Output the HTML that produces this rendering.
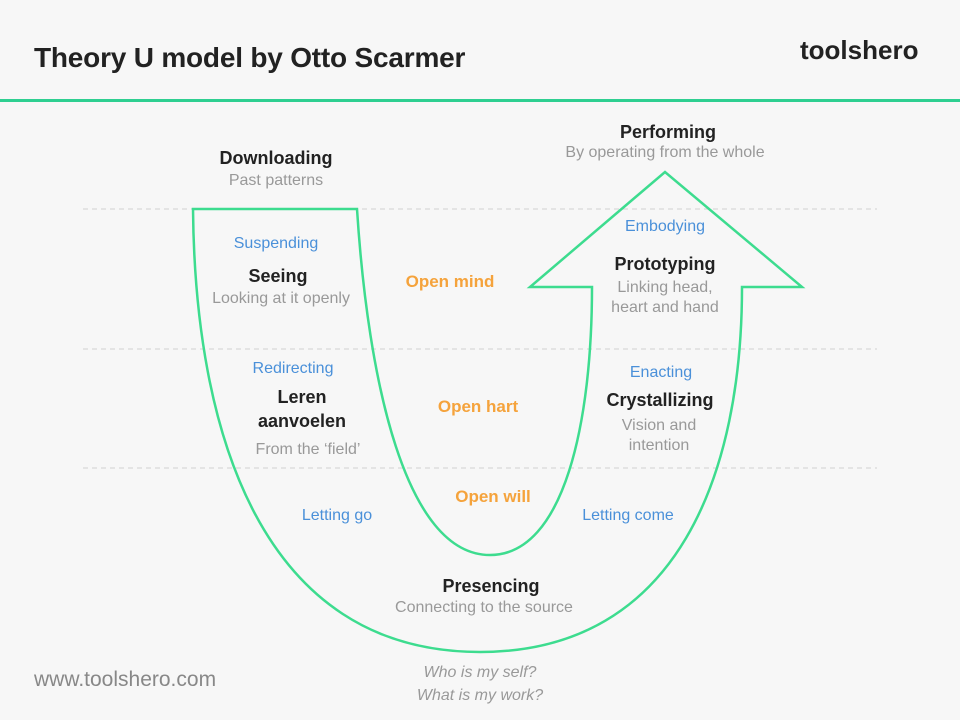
<!DOCTYPE html>
<html><head><meta charset="utf-8"><style>
html,body{margin:0;padding:0;background:#f7f7f7;}
body{width:960px;height:720px;position:relative;overflow:hidden;font-family:"Liberation Sans",sans-serif;}
.t{position:absolute;white-space:nowrap;transform:translateX(-50%);text-align:center;line-height:20px;}
.h{font-size:18px;font-weight:bold;color:#222;}
.s{font-size:16px;color:#999;}
.b{font-size:16px;color:#4a90d9;}
.o{font-size:17px;font-weight:bold;color:#f5a33c;}
</style></head><body>
<div style="position:absolute;left:34px;top:42px;font-size:28px;font-weight:bold;color:#222;letter-spacing:-0.2px">Theory U model by Otto Scarmer</div>
<div style="position:absolute;left:800px;top:35px;font-size:26px;font-weight:bold;color:#222">toolshero</div>
<div style="position:absolute;left:0;top:99px;width:960px;height:3px;background:#2ecf91"></div>
<svg width="960" height="720" style="position:absolute;left:0;top:0">
<g stroke="#d8d8d8" stroke-width="1.2" stroke-dasharray="5,4">
<line x1="83" y1="209" x2="877" y2="209"/><line x1="83" y1="349" x2="877" y2="349"/><line x1="83" y1="468" x2="877" y2="468"/>
</g>
<path d="M193,209 L357,209 C368,380 405,555 490,555 C565,555 592,420 592,287 L530,287 L665,172 L802,287 L742,287 C742,470 680,652 480,652 C260,652 195,430 193,209 Z" fill="none" stroke="#3ddc8f" stroke-width="2.5" stroke-linejoin="miter"/>
</svg>
<div class="t h" style="left:276px;top:148px">Downloading</div>
<div class="t s" style="left:276px;top:171px">Past patterns</div>
<div class="t h" style="left:668px;top:122px">Performing</div>
<div class="t s" style="left:665px;top:143px">By operating from the whole</div>
<div class="t b" style="left:276px;top:234px">Suspending</div>
<div class="t h" style="left:278px;top:266px">Seeing</div>
<div class="t s" style="left:281px;top:289px">Looking at it openly</div>
<div class="t o" style="left:450px;top:272px">Open mind</div>
<div class="t b" style="left:665px;top:217px">Embodying</div>
<div class="t h" style="left:665px;top:254px">Prototyping</div>
<div class="t s" style="left:665px;top:278px">Linking head,</div>
<div class="t s" style="left:665px;top:298px">heart and hand</div>
<div class="t b" style="left:293px;top:359px">Redirecting</div>
<div class="t h" style="left:302px;top:387px">Leren</div>
<div class="t h" style="left:302px;top:411px">aanvoelen</div>
<div class="t s" style="left:308px;top:440px">From the ‘field’</div>
<div class="t o" style="left:478px;top:397px">Open hart</div>
<div class="t b" style="left:661px;top:363px">Enacting</div>
<div class="t h" style="left:660px;top:390px">Crystallizing</div>
<div class="t s" style="left:659px;top:416px">Vision and</div>
<div class="t s" style="left:659px;top:436px">intention</div>
<div class="t o" style="left:493px;top:487px">Open will</div>
<div class="t b" style="left:337px;top:506px">Letting go</div>
<div class="t b" style="left:628px;top:506px">Letting come</div>
<div class="t h" style="left:491px;top:576px">Presencing</div>
<div class="t s" style="left:484px;top:598px">Connecting to the source</div>
<div class="t s" style="left:480px;top:663px;font-style:italic">Who is my self?</div>
<div class="t s" style="left:480px;top:686px;font-style:italic">What is my work?</div>
<div style="position:absolute;left:34px;top:668px;font-size:21px;color:#888">www.toolshero.com</div>
</body></html>
